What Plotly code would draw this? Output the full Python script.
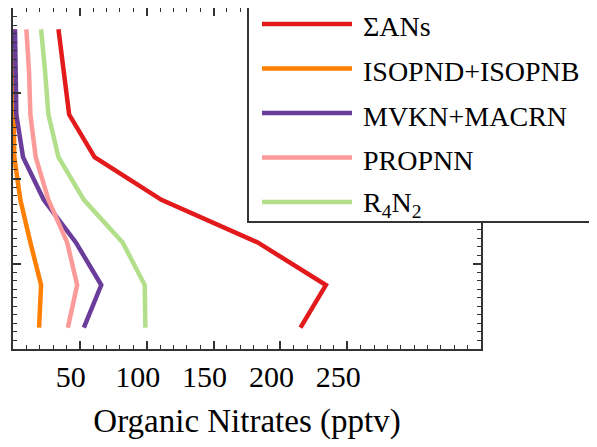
import plotly.graph_objects as go

# Altitude levels (arbitrary vertical coordinate, no labels shown)
levels = [0.25, 0.75, 1.25, 1.75, 2.25, 2.75, 3.25, 3.75]

sum_ans = [215, 234, 183, 111, 61, 42, 38, 34]
isopn = [19.5, 21, 13, 5.5, 1, 0.5, 1, 1]
mvkn_macrn = [53, 66, 47, 23, 7.5, 2.5, 2, 1.5]
propnn = [41, 48, 40.5, 26.5, 17, 13, 12, 10]
r4n2 = [99, 98.5, 82, 53, 34, 26.5, 24, 21]

series_names = ["ΣANs", "ISOPND+ISOPNB", "MVKN+MACRN", "PROPNN", "R<sub>4</sub>N<sub>2</sub>"]
series_values = [sum_ans, isopn, mvkn_macrn, propnn, r4n2]
series_colors = ["#e31a1c", "#ff7f00", "#6a3d9a", "#fb9a99", "#b2df8a"]

x_tick_vals = [50, 100, 150, 200, 250]
x_tick_text = ["50", "100", "150", "200", "250"]
x_unlabelled_major = [0, 300, 350]

SERIF = "Liberation Serif"
FRAME = "#333"

# Page body has an 8px margin; figure is sized so the plot lands where the reference has it
PAGE_OFF = 8
FIG_W, FIG_H = 597 - PAGE_OFF, 447 - PAGE_OFF
PLOT_L, PLOT_R, PLOT_T, PLOT_B = 13, 481, 8, 349  # page pixel positions of the frame


def px(xp):
    return (xp - PLOT_L) / (PLOT_R - PLOT_L)


def py(yp):
    return (PLOT_B - yp) / (PLOT_B - PLOT_T)


fig = go.Figure()
for i, (name, vals, col) in enumerate(zip(series_names, series_values, series_colors)):
    fig.add_trace(go.Scatter(
        x=vals, y=levels, mode="lines", name=name,
        line=dict(color=col, width=4.5), showlegend=False,
    ))

axis_common = dict(
    showline=True, linecolor=FRAME, linewidth=2, mirror="allticks",
    ticks="inside", ticklen=8, tickwidth=1.5, tickcolor=FRAME,
    showgrid=False, zeroline=False, automargin=False,
)

fig.update_layout(
    xaxis=dict(
        range=[0, 350], tickvals=x_tick_vals, ticktext=x_tick_text,
        minor=dict(ticks="inside", dtick=10, ticklen=4, tickwidth=1.2, tickcolor=FRAME),
        tickfont=dict(family=SERIF, size=30, color="black"),
        ticklabelshift=-9,
        title=dict(text="Organic Nitrates (pptv)", font=dict(family=SERIF, size=33, color="black"), standoff=17),
        **axis_common,
    ),
    xaxis2=dict(
        overlaying="x", matches="x", anchor="y", side="bottom",
        range=[0, 350], tickvals=x_unlabelled_major, showticklabels=False,
        **axis_common,
    ),
    yaxis=dict(
        range=[0, 4], dtick=1, showticklabels=False,
        minor=dict(ticks="inside", dtick=0.1, ticklen=4, tickwidth=1.2, tickcolor=FRAME),
        **axis_common,
    ),
)

# Legend box (drawn in paper coordinates, entries built from the series lists)
fig.add_shape(type="rect", xref="paper", yref="paper",
              x0=px(248), x1=px(595), y0=py(222), y1=py(7),
              line=dict(color=FRAME, width=2), fillcolor="white", layer="above")
for i, (name, col) in enumerate(zip(series_names, series_colors)):
    yc = 24 + 44.5 * i
    fig.add_shape(type="line", xref="paper", yref="paper",
                  x0=px(262), x1=px(352), y0=py(yc), y1=py(yc),
                  line=dict(color=col, width=4.5), layer="above")
    fig.add_annotation(xref="paper", yref="paper", x=px(361), y=py(yc + 3),
                       text=name, showarrow=False, xanchor="left", yanchor="middle",
                       font=dict(family=SERIF, size=28, color="black"))

fig.update_layout(
    template="none",
    width=FIG_W, height=FIG_H,
    margin=dict(l=PLOT_L - PAGE_OFF, r=FIG_W - (PLOT_R - PAGE_OFF),
                t=PLOT_T - PAGE_OFF, b=FIG_H - (PLOT_B - PAGE_OFF), autoexpand=False),
    paper_bgcolor="white", plot_bgcolor="white",
    showlegend=False,
)

fig.write_html("out.html")
